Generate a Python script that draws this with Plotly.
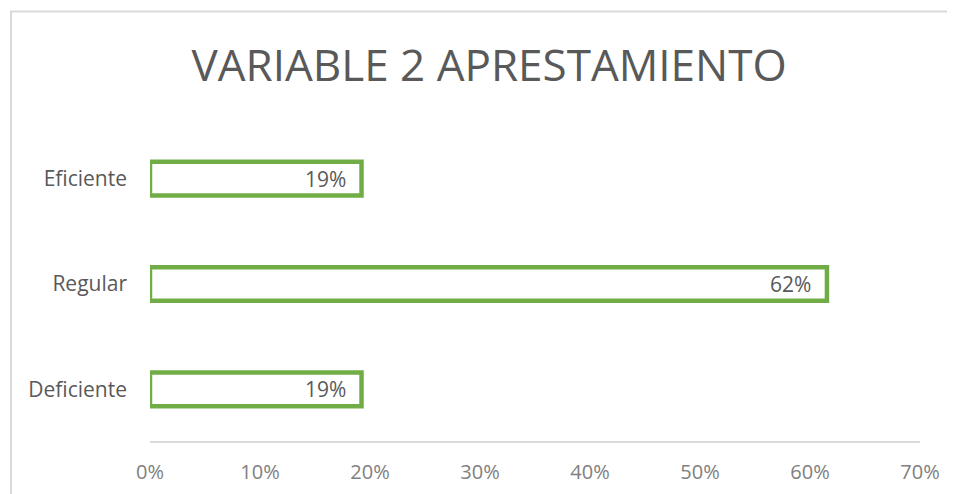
import plotly.graph_objects as go

categories = ["Deficiente", "Regular", "Eficiente"]
values = [0.1923, 0.6154, 0.1923]
labels = ["19%", "62%", "19%"]
tick_vals = [0, 0.1, 0.2, 0.3, 0.4, 0.5, 0.6, 0.7]
tick_text = ["0%", "10%", "20%", "30%", "40%", "50%", "60%", "70%"]

FONT = "Open Sans"
GREEN = "#70AD47"

fig = go.Figure()
fig.add_trace(go.Bar(
    x=values, y=categories, orientation="h",
    marker=dict(color="white", line=dict(color=GREEN, width=4.5)),
    hoverinfo="skip", showlegend=False,
))

for c, v, t in zip(categories, values, labels):
    fig.add_annotation(x=v, y=c, xref="x", yref="y", text=t, showarrow=False,
                       xanchor="right", yanchor="middle", xshift=-14,
                       font=dict(family=FONT, size=21, color="#595959"))

fig.update_layout(
    width=947, height=486,
    margin=dict(l=142, r=35, t=118, b=52, autoexpand=False),
    paper_bgcolor="white", plot_bgcolor="white",
    bargap=0.68,
    title=dict(text="VARIABLE 2 APRESTAMIENTO", x=0.508, xanchor="center",
               y=0.882, yanchor="middle",
               font=dict(family=FONT, size=44, color="#595959")),
    xaxis=dict(range=[0, 0.7], tickvals=tick_vals, ticktext=tick_text,
               showgrid=False, zeroline=False, showline=False, automargin=False,
               ticks="", ticklabelstandoff=16,
               tickfont=dict(family=FONT, size=20, color="#808080")),
    yaxis=dict(categoryorder="array", categoryarray=categories, automargin=False,
               range=[-0.5, 2.5], showgrid=False, zeroline=False, showline=False,
               ticks="", ticklabelstandoff=22,
               tickfont=dict(family=FONT, size=21, color="#595959")),
    shapes=[
        dict(type="line", xref="paper", yref="paper", x0=0, x1=1, y0=0, y1=0,
             line=dict(color="#D9D9D9", width=2), layer="below"),
        dict(type="rect", xref="paper", yref="paper",
             x0=-0.1805, x1=1.06, y0=-0.25, y1=1.362,
             line=dict(color="#D9D9D9", width=2), layer="below"),
    ],
)

fig.write_html("out.html")
